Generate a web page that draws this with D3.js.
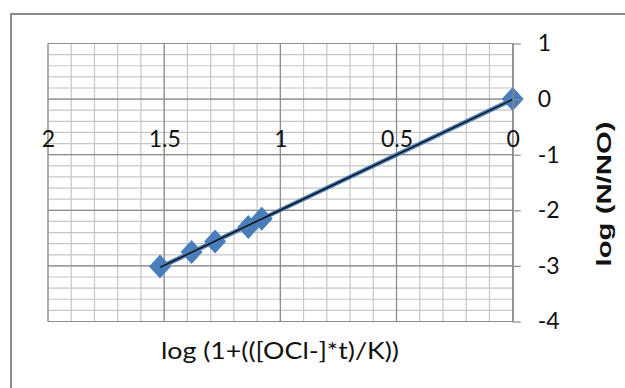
<!DOCTYPE html>
<html>
<head>
<meta charset="utf-8">
<script src="https://cdn.jsdelivr.net/npm/d3@7"></script>
<style>
  html, body { margin: 0; padding: 0; background: #fff; }
  svg { display: block; }
</style>
</head>
<body>
<svg id="chart" width="625" height="388"></svg>
<script>
// Measured points: x = log(1 + [OCl-]·t / K), y = log(N/N0)
const xValues = [1.518, 1.382, 1.281, 1.138, 1.080, 0.0];
const yValues = [-3.01, -2.75, -2.56, -2.30, -2.15, 0.0];

// Axis tick labels
const xTickValues = [2, 1.5, 1, 0.5, 0];
const yTickValues = [1, 0, -1, -2, -3, -4];

const xTitle = "log (1+(([OCl-]*t)/K))";
const yTitle = "log (N/NO)";

const svg = d3.select("#chart");
const W = 625, H = 388;

svg.append("rect").attr("width", W).attr("height", H).attr("fill", "#fff");

// Chart frame
svg.append("rect")
  .attr("x", 11).attr("y", 14)
  .attr("width", W + 20).attr("height", H + 20)
  .attr("fill", "#fff")
  .attr("stroke", "#8a8a8a")
  .attr("stroke-width", 2);

// Reversed horizontal axis, vertical axis on the right
const x = d3.scaleLinear().domain([2, 0]).range([48, 512.7]);
const y = d3.scaleLinear().domain([-4, 1]).range([321.5, 43.5]);

const plot = svg.append("g");

// Minor gridlines
const xMinor = d3.range(0, 20.5, 1).map(d => d / 10);
const yMinor = d3.range(-20, 5.5, 1).map(d => d / 5);

plot.append("g").selectAll("line").data(xMinor).join("line")
  .attr("x1", d => x(d)).attr("x2", d => x(d))
  .attr("y1", y(1)).attr("y2", y(-4))
  .attr("stroke", "#c6c6c6").attr("stroke-width", 1.2);

plot.append("g").selectAll("line").data(yMinor).join("line")
  .attr("x1", x(2)).attr("x2", x(0))
  .attr("y1", d => y(d)).attr("y2", d => y(d))
  .attr("stroke", "#c6c6c6").attr("stroke-width", 1.2);

// Major gridlines
plot.append("g").selectAll("line").data(xTickValues).join("line")
  .attr("x1", d => x(d)).attr("x2", d => x(d))
  .attr("y1", y(1)).attr("y2", y(-4))
  .attr("stroke", "#8c8c8c").attr("stroke-width", 1.2);

plot.append("g").selectAll("line").data(yTickValues).join("line")
  .attr("x1", x(2)).attr("x2", x(0))
  .attr("y1", d => y(d)).attr("y2", d => y(d))
  .attr("stroke", "#8c8c8c").attr("stroke-width", 1.2);

// Right-hand value axis
const yAxis = d3.axisRight(y)
  .tickValues(yTickValues)
  .tickFormat(d3.format("d"))
  .tickSizeInner(8)
  .tickSizeOuter(0)
  .tickPadding(17);

const gy = svg.append("g")
  .attr("transform", `translate(${x(0)},0)`)
  .call(yAxis);
gy.select(".domain").attr("stroke", "#8c8c8c").attr("stroke-width", 1.2);
gy.selectAll(".tick line").attr("stroke", "#8c8c8c").attr("stroke-width", 1.2);
gy.selectAll(".tick text")
  .attr("font-family", "Lato, 'Open Sans', sans-serif")
  .attr("font-size", 23)
  .attr("fill", "#111")
  .text(d => d < 0 ? "-" + Math.abs(d) : d);

// Horizontal axis labels sit just below the -0.5 line
const xAxis = d3.axisBottom(x)
  .tickValues(xTickValues)
  .tickFormat(d => String(d))
  .tickSize(0)
  .tickPadding(4);

const gx = svg.append("g")
  .attr("transform", `translate(0,${y(-0.5)})`)
  .call(xAxis);
gx.select(".domain").remove();
gx.selectAll(".tick text")
  .attr("font-family", "Lato, 'Open Sans', sans-serif")
  .attr("font-size", 23)
  .attr("fill", "#111");

// Data markers (diamonds)
const pts = xValues.map((v, i) => [v, yValues[i]]);
const rx = 11, ry = 12;
plot.append("g").selectAll("path").data(pts).join("path")
  .attr("d", d => {
    const cx = x(d[0]), cy = y(d[1]);
    return `M${cx},${cy - ry}L${cx + rx},${cy}L${cx},${cy + ry}L${cx - rx},${cy}Z`;
  })
  .attr("fill", "#4a7ebb");

// Linear trendline (least squares) over the data range
const n = pts.length;
const mx = d3.mean(xValues), my = d3.mean(yValues);
const sxy = d3.sum(pts, d => (d[0] - mx) * (d[1] - my));
const sxx = d3.sum(pts, d => (d[0] - mx) * (d[0] - mx));
const slope = sxy / sxx, icpt = my - slope * mx;
const [x0, x1] = d3.extent(xValues);
const trend = [[x0, slope * x0 + icpt], [x1, slope * x1 + icpt]];
const line = d3.line().x(d => x(d[0])).y(d => y(d[1]));

plot.append("path").datum(trend).attr("d", line)
  .attr("fill", "none").attr("stroke", "#4a7ebb")
  .attr("stroke-width", 4.5).attr("stroke-linecap", "round");
plot.append("path").datum(trend).attr("d", line)
  .attr("fill", "none").attr("stroke", "#111")
  .attr("stroke-width", 1.5);

// Axis titles
svg.append("text")
  .attr("x", 280).attr("y", 359)
  .attr("text-anchor", "middle")
  .attr("font-family", "Lato, 'Open Sans', sans-serif")
  .attr("font-size", 23)
  .attr("fill", "#111")
  .attr("textLength", 238)
  .attr("lengthAdjust", "spacingAndGlyphs")
  .text(xTitle);

svg.append("text")
  .attr("transform", "translate(611,194) rotate(-90)")
  .attr("text-anchor", "middle")
  .attr("font-family", "'Liberation Sans', Arial, sans-serif")
  .attr("font-weight", "bold")
  .attr("font-size", 21)
  .attr("fill", "#111")
  .attr("textLength", 145)
  .attr("lengthAdjust", "spacingAndGlyphs")
  .text(yTitle);
</script>
</body>
</html>
